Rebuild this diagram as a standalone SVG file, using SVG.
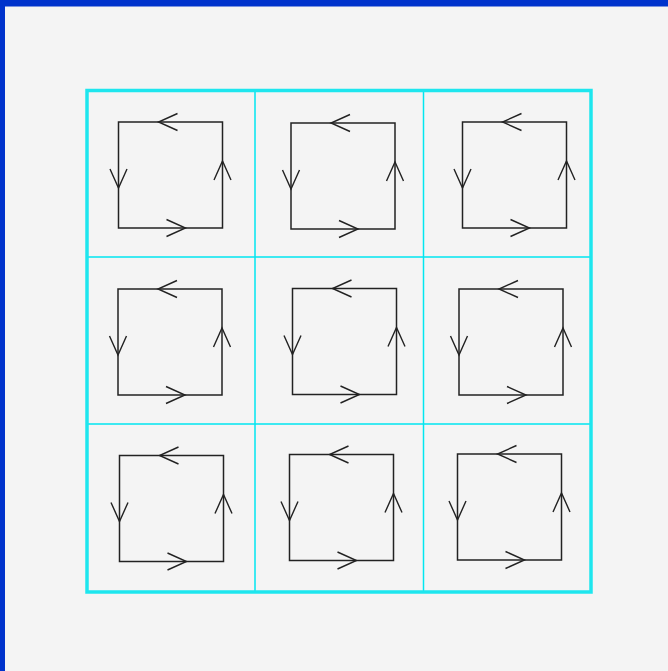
<svg xmlns="http://www.w3.org/2000/svg" xmlns:xlink="http://www.w3.org/1999/xlink" width="668" height="671" viewBox="0 0 668 671">
  <style>
    .sq { fill: none; stroke: #222; stroke-width: 1.5; }
    .ah { fill: none; stroke: #222; stroke-width: 1.4; }
    .gridO { fill: none; stroke: #1ee6ee; stroke-width: 3.5; }
    .gridI { stroke: #00e6f0; stroke-width: 1.5; }
  </style>
  <defs>
    <path id="ah" class="ah" d="M19,-8.5 L0,0 L19,8.5"/>
    <g id="cell">
      <rect class="sq" x="0" y="0" width="104" height="106"/>
      <use xlink:href="#ah" href="#ah" transform="translate(40,0)"/>
      <use xlink:href="#ah" href="#ah" transform="translate(67,106) rotate(180)"/>
      <use xlink:href="#ah" href="#ah" transform="translate(0,66) rotate(-90)"/>
      <use xlink:href="#ah" href="#ah" transform="translate(104,39) rotate(90)"/>
    </g>
  </defs>
  <rect x="0" y="0" width="668" height="671" fill="#f4f4f4"/>
  <rect x="0" y="0" width="668" height="6.5" fill="#0033cc"/>
  <rect x="0" y="0" width="5" height="671" fill="#0033cc"/>
  <g id="grid">
    <line class="gridI" x1="255" y1="90.5" x2="255" y2="592"/>
    <line class="gridI" x1="423.5" y1="90.5" x2="423.5" y2="592"/>
    <line class="gridI" x1="87" y1="257" x2="591" y2="257"/>
    <line class="gridI" x1="87" y1="424" x2="591" y2="424"/>
    <rect class="gridO" x="87" y="90.5" width="504" height="501.5"/>
  </g>
  <g id="connectors">
    <g id="cell-0-0"><use xlink:href="#cell" href="#cell" transform="translate(118.5,122)"/></g>
    <g id="cell-1-0"><use xlink:href="#cell" href="#cell" transform="translate(291,123)"/></g>
    <g id="cell-2-0"><use xlink:href="#cell" href="#cell" transform="translate(462.5,122)"/></g>
    <g id="cell-0-1"><use xlink:href="#cell" href="#cell" transform="translate(118,289)"/></g>
    <g id="cell-1-1"><use xlink:href="#cell" href="#cell" transform="translate(292.5,288.5)"/></g>
    <g id="cell-2-1"><use xlink:href="#cell" href="#cell" transform="translate(459,289)"/></g>
    <g id="cell-0-2"><use xlink:href="#cell" href="#cell" transform="translate(119.5,455.5)"/></g>
    <g id="cell-1-2"><use xlink:href="#cell" href="#cell" transform="translate(289.5,454.5)"/></g>
    <g id="cell-2-2"><use xlink:href="#cell" href="#cell" transform="translate(457.5,454)"/></g>
  </g>
</svg>
